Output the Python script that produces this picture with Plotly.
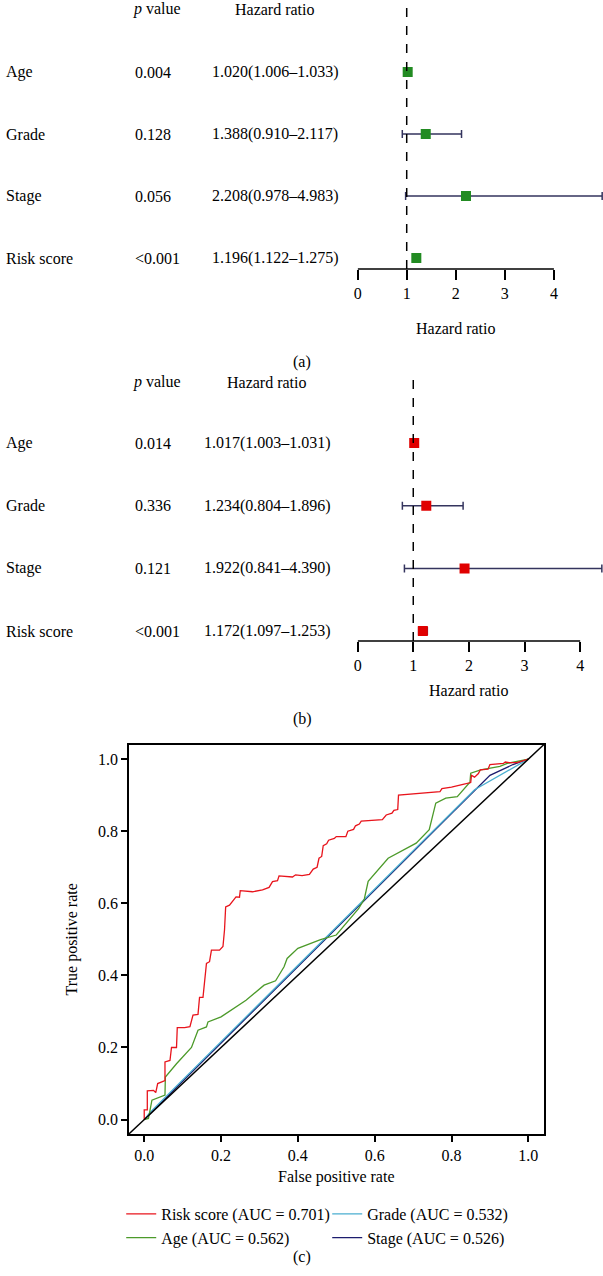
import plotly.graph_objects as go

W, H = 603, 1276
FONT = "Liberation Serif"

# forest plot data
variables = ["Age", "Grade", "Stage", "Risk score"]
uni_p = ["0.004", "0.128", "0.056", "<0.001"]
uni_hr = [1.020, 1.388, 2.208, 1.196]
uni_lo = [1.006, 0.910, 0.978, 1.122]
uni_hi = [1.033, 2.117, 4.983, 1.275]
multi_p = ["0.014", "0.336", "0.121", "<0.001"]
multi_hr = [1.017, 1.234, 1.922, 1.172]
multi_lo = [1.003, 0.804, 0.841, 1.097]
multi_hi = [1.031, 1.896, 4.390, 1.253]
hr_ticks = [0, 1, 2, 3, 4]

# ROC curves
risk_fpr = [0, 0, 0.008, 0.008, 0.024, 0.03, 0.035, 0.054, 0.054, 0.067, 0.071, 0.084, 0.086, 0.105,
            0.119, 0.123, 0.127, 0.14, 0.144, 0.153, 0.157, 0.162, 0.17, 0.175, 0.196, 0.205, 0.209,
            0.212, 0.222, 0.226, 0.239, 0.248, 0.25, 0.282, 0.308, 0.325, 0.334, 0.347, 0.351, 0.386,
            0.394, 0.411, 0.43, 0.44, 0.45, 0.455, 0.462, 0.466, 0.475, 0.48, 0.495, 0.5, 0.525, 0.53,
            0.545, 0.55, 0.56, 0.565, 0.585, 0.62, 0.63, 0.645, 0.65, 0.66, 0.662, 0.70, 0.74, 0.77,
            0.775, 0.8, 0.83, 0.85, 0.852, 0.86, 0.87, 0.875, 0.895, 0.9, 0.935, 0.94, 0.95, 0.97, 1.0]
risk_tpr = [0, 0.027, 0.027, 0.08, 0.081, 0.075, 0.1, 0.108, 0.16, 0.164, 0.2, 0.2, 0.255, 0.255,
            0.258, 0.271, 0.29, 0.292, 0.339, 0.339, 0.392, 0.433, 0.438, 0.47, 0.47, 0.48, 0.526,
            0.59, 0.595, 0.6, 0.618, 0.617, 0.635, 0.632, 0.637, 0.644, 0.66, 0.663, 0.676, 0.673,
            0.679, 0.677, 0.68, 0.695, 0.70, 0.725, 0.73, 0.76, 0.765, 0.775, 0.78, 0.785, 0.785, 0.80,
            0.805, 0.815, 0.82, 0.828, 0.83, 0.832, 0.845, 0.85, 0.858, 0.86, 0.9, 0.903, 0.908, 0.91,
            0.918, 0.922, 0.93, 0.935, 0.955, 0.95, 0.96, 0.97, 0.972, 0.985, 0.988, 0.992, 0.99, 0.99, 1.0]
age_fpr = [0, 0.011, 0.02, 0.054, 0.055, 0.084, 0.123, 0.14, 0.162, 0.166, 0.2, 0.265, 0.312, 0.342,
           0.364, 0.372, 0.4, 0.459, 0.5, 0.558, 0.573, 0.583, 0.635, 0.708, 0.742, 0.759, 0.785,
           0.815, 0.848, 0.85, 0.876, 0.926, 0.945, 1.0]
age_tpr = [0, 0.003, 0.054, 0.068, 0.118, 0.155, 0.2, 0.248, 0.257, 0.271, 0.285, 0.331, 0.373, 0.385,
           0.424, 0.447, 0.475, 0.499, 0.512, 0.585, 0.612, 0.661, 0.725, 0.767, 0.804, 0.878, 0.892,
           0.896, 0.936, 0.961, 0.97, 0.98, 0.988, 1.0]
grade_fpr = [0, 0.015, 0.86, 1.0]
grade_tpr = [0, 0.02, 0.915, 1.0]
stage_fpr = [0, 0.9, 0.96, 1.0]
stage_tpr = [0, 0.955, 0.985, 1.0]
roc_ticks = [0, 0.2, 0.4, 0.6, 0.8, 1.0]
roc_names = ["Risk score (AUC = 0.701)", "Age (AUC = 0.562)",
             "Grade (AUC = 0.532)", "Stage (AUC = 0.526)"]


def px(x):
    return x / W


def py(y):
    return 1 - y / H


fig = go.Figure()
annotations = []
shapes = []

# (axis suffix, hr, lo, hi, p, colour, top px, axis px, first-row px, row step, px per unit, hr text x, tag, tag y)
panels = [
    ("", uni_hr, uni_lo, uni_hi, uni_p, "#228b22", 0, 269, 72, 62.0, 49.4, 273, "(a)", 351),
    ("2", multi_hr, multi_lo, multi_hi, multi_p, "#e00000", 373, 641, 443, 62.7, 56.0, 265, "(b)", 719),
]

for (ax, hr, lo, hi, pv, col, top, bot, row0, step, scale, hrx, tag, tagy) in panels:
    n = len(variables)
    ypos = [n - i for i in range(n)]
    # row value v sits at pixel row0 + (n - v) * step
    v_bot = n - (bot - row0) / step
    v_top = n - (top - row0) / step
    fig.add_trace(go.Scatter(
        x=hr, y=ypos, mode="markers", xaxis="x" + ax, yaxis="y" + ax, showlegend=False,
        marker=dict(symbol="square", size=10, color=col),
        error_x=dict(type="data", symmetric=False,
                     array=[h - m for h, m in zip(hi, hr)],
                     arrayminus=[m - l for m, l in zip(hr, lo)],
                     color="#34345e", thickness=1.5, width=4),
    ))
    xr = (W - 356) / scale
    fig.update_layout(**{
        "xaxis" + ax: dict(domain=[px(356), 1], range=[0, xr], anchor="y" + ax,
                           tickvals=hr_ticks, ticks="outside", ticklen=10, tickwidth=1.5,
                           tickcolor="black", showline=False, showgrid=False, zeroline=False,
                           tickfont=dict(size=16, color="black")),
        "yaxis" + ax: dict(domain=[py(bot), py(top)], range=[v_bot, v_top], visible=False),
    })
    xref = "x" + ax
    yref = "y" + ax
    shapes.append(dict(type="line", xref=xref, yref=yref + " domain", x0=1, x1=1, y0=0, y1=1,
                       line=dict(color="black", width=1.5, dash="dash")))
    shapes.append(dict(type="line", xref=xref, yref=yref + " domain", x0=min(hr_ticks),
                       x1=max(hr_ticks), y0=0, y1=0, line=dict(color="black", width=1.5)))
    v_head = n - (top + 9 - row0) / step
    annotations.append(dict(xref="paper", yref=yref, x=px(128), y=v_head, text="<i>p</i> value",
                            showarrow=False, font=dict(size=16)))
    annotations.append(dict(xref="paper", yref=yref, x=px(hrx), y=v_head, text="Hazard ratio",
                            showarrow=False, font=dict(size=16)))
    for name, p, h, l, u, yy in zip(variables, pv, hr, lo, hi, ypos):
        annotations.append(dict(xref="paper", yref=yref, x=0, y=yy, text=name, xanchor="left",
                                showarrow=False, font=dict(size=16)))
        annotations.append(dict(xref="paper", yref=yref, x=px(130), y=yy, text=p,
                                showarrow=False, font=dict(size=16)))
        annotations.append(dict(xref="paper", yref=yref, x=px(hrx), y=yy,
                                text=f"{h:.3f}({l:.3f}\u2013{u:.3f})",
                                showarrow=False, font=dict(size=16)))
    annotations.append(dict(xref=xref, yref="paper", x=2, y=py(bot + 49), text="Hazard ratio",
                            showarrow=False, font=dict(size=16)))
    annotations.append(dict(xref="paper", yref="paper", x=px(300), y=py(tagy), text=tag,
                            showarrow=False, font=dict(size=16)))

# ROC panel: drawn back to front, legend ranked as in the figure
roc = [
    (stage_fpr, stage_tpr, roc_names[3], "#1c1c6e", 4),
    (grade_fpr, grade_tpr, roc_names[2], "#4aaed0", 2),
    (age_fpr, age_tpr, roc_names[1], "#4c9a2a", 3),
    (risk_fpr, risk_tpr, roc_names[0], "#e8141c", 1),
]
for fx, fy, name, col, rank in roc:
    fig.add_trace(go.Scatter(x=fx, y=fy, mode="lines", name=name, xaxis="x3", yaxis="y3",
                             line=dict(color=col, width=1.3), legendrank=rank))

shapes.append(dict(type="line", xref="x3 domain", yref="y3 domain", x0=0, y0=0, x1=1, y1=1,
                   line=dict(color="black", width=1.5)))

roc_axis = dict(range=[-0.04, 1.04], tickvals=roc_ticks, ticktext=[f"{t:.1f}" for t in roc_ticks],
                ticks="outside", ticklen=6, tickwidth=1.5, tickcolor="black", showline=True,
                mirror=True, linecolor="black", linewidth=1.5, showgrid=False, zeroline=False,
                tickfont=dict(size=16, color="black"))
fig.update_layout(
    xaxis3=dict(roc_axis, domain=[px(125.7), px(543.3)], anchor="y3",
                title=dict(text="False positive rate", font=dict(size=16), standoff=8)),
    yaxis3=dict(roc_axis, domain=[py(1134), py(744.7)], anchor="x3",
                title=dict(text="True positive rate", font=dict(size=16), standoff=16)),
)
annotations.append(dict(xref="paper", yref="paper", x=px(300), y=py(1268), text="(c)",
                        showarrow=False, font=dict(size=16)))

fig.update_layout(
    width=W, height=H, margin=dict(l=0, r=0, t=0, b=0),
    paper_bgcolor="white", plot_bgcolor="white",
    font=dict(family=FONT, size=16, color="black"),
    annotations=annotations, shapes=shapes,
    legend=dict(orientation="h", x=px(118), y=py(1197), xanchor="left", yanchor="top",
                entrywidth=161, entrywidthmode="pixels", bgcolor="rgba(0,0,0,0)",
                font=dict(size=16), tracegroupgap=0),
)

# drop the default page margin so the figure sits at the window's corner
fig.write_html("out.html", config={"displayModeBar": False},
               post_script="document.body.style.margin='0';")
